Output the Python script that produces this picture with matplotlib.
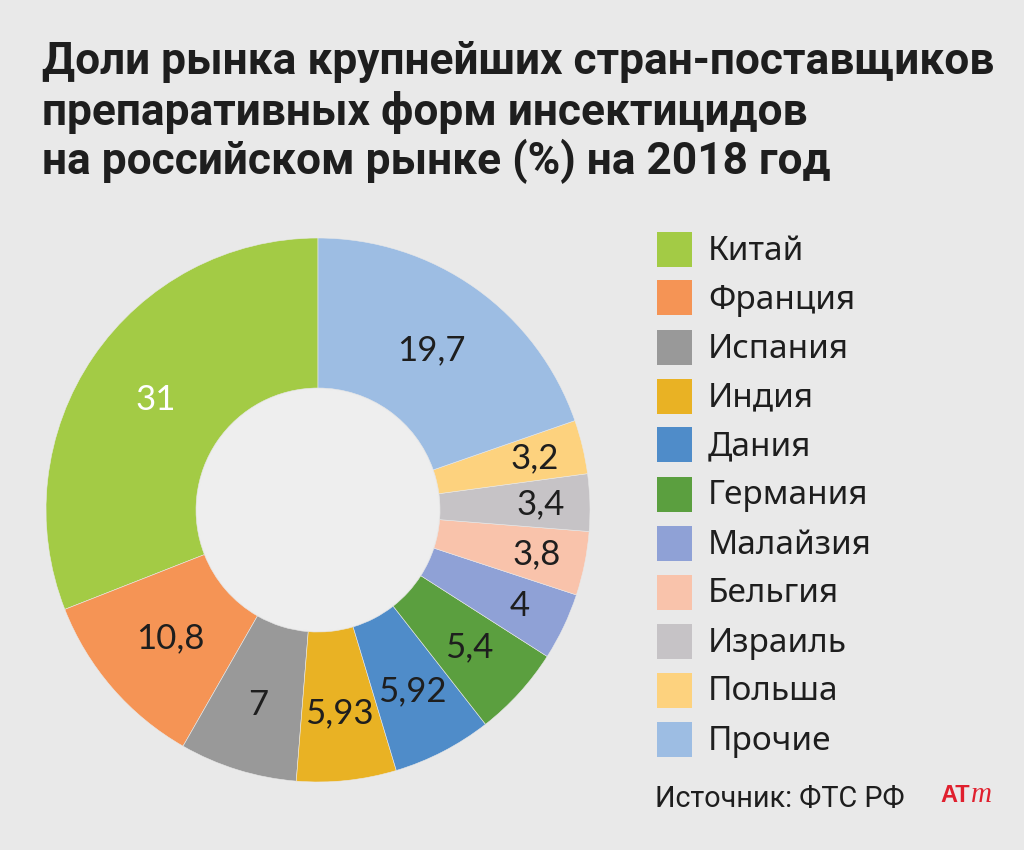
import numpy as np
import matplotlib.pyplot as plt
from matplotlib.patches import Rectangle

# -----------------------------------------------------------------------------
# data
# -----------------------------------------------------------------------------
countries = ["Китай", "Франция", "Испания", "Индия", "Дания", "Германия",
             "Малайзия", "Бельгия", "Израиль", "Польша", "Прочие"]
shares = [31, 10.8, 7, 5.93, 5.92, 5.4, 4, 3.8, 3.4, 3.2, 19.7]
share_labels = ["31", "10,8", "7", "5,93", "5,92", "5,4", "4", "3,8", "3,4", "3,2", "19,7"]
colors = ["#a3cb45", "#f59455", "#999999", "#e9b224", "#4f8cc9", "#5b9f3f",
          "#8fa1d6", "#f9c3ab", "#c6c3c6", "#fdd27e", "#9dbde3"]

title_lines = ["Доли рынка крупнейших стран-поставщиков",
               "препаративных форм инсектицидов",
               "на российском рынке (%) на 2018 год"]
source = "Источник: ФТС РФ"

BG = "#e9e9e9"
HOLE = "#eeeeee"
INK = "#1e1e1e"
W, H = 1024, 850

fig = plt.figure(figsize=(W / 100, H / 100), dpi=100, facecolor=BG)
renderer = fig.canvas.get_renderer()


def fit_width(txt, target_px):
    # shrink/grow a text so that it spans target_px pixels
    w = txt.get_window_extent(renderer).width
    txt.set_fontsize(txt.get_fontsize() * target_px / w)


# title: first line sets the size, the others follow it
title_y = [62, 112, 161]
t0 = fig.text(42 / W, 1 - title_y[0] / H, title_lines[0], ha="left", va="center",
              family="Roboto", weight="bold", fontsize=30, color=INK)
fit_width(t0, 951)
for line, y in zip(title_lines[1:], title_y[1:]):
    fig.text(42 / W, 1 - y / H, line, ha="left", va="center",
             family="Roboto", weight="bold", fontsize=t0.get_fontsize(), color=INK)

# donut -----------------------------------------------------------------------
cx, cy, R = 318, 510, 272
half = 280
ax = fig.add_axes([(cx - half) / W, (H - cy - half) / H, 2 * half / W, 2 * half / H])
ax.set_facecolor(BG)
inner = 122 / R
wedges, _ = ax.pie(shares, colors=colors, startangle=90, counterclock=True,
                   radius=1, wedgeprops=dict(width=1 - inner, edgecolor=BG, linewidth=0.4))
ax.add_patch(plt.Circle((0, 0), inner - 0.005, color=HOLE, zorder=3))
lim = half / R
ax.set_xlim(-lim, lim)
ax.set_ylim(-lim, lim)
ax.set_aspect("equal")
ax.axis("off")

for i, (w, v, lab) in enumerate(zip(wedges, shares, share_labels)):
    mid = np.deg2rad((w.theta1 + w.theta2) / 2)
    r = 0.72 if v >= 10 else (0.75 if v >= 5 else 0.82)
    col = "white" if i == 0 else INK
    ax.text(r * np.cos(mid), r * np.sin(mid), lab, ha="center", va="center",
            fontsize=25, color=col, family="Lato")

# legend ----------------------------------------------------------------------
lx, ly0, step, sq = 657, 249, 49, 35
for i, (name, col) in enumerate(zip(countries, colors)):
    yc = ly0 + i * step
    fig.patches.append(Rectangle((lx / W, 1 - (yc + sq / 2) / H), sq / W, sq / H,
                                 transform=fig.transFigure, facecolor=col,
                                 edgecolor="none"))
    fig.text(708 / W, 1 - (yc + 2) / H, name, ha="left", va="center",
             fontsize=24, color=INK, family="Noto Sans")

# source + logo
src = fig.text(655 / W, 1 - 799 / H, source, ha="left", va="center",
               fontsize=22, color=INK, family="Roboto")
fit_width(src, 250)
fig.text(940 / W, 1 - 795 / H, "AT", ha="left", va="center",
         fontsize=17, color="#e0202e", weight="bold", family="Liberation Sans")
fig.text(971 / W, 1 - 795 / H, "m", ha="left", va="center",
         fontsize=21, color="#e0202e", style="italic", family="Liberation Serif")

fig.savefig("out.png", dpi=100, facecolor=BG)
